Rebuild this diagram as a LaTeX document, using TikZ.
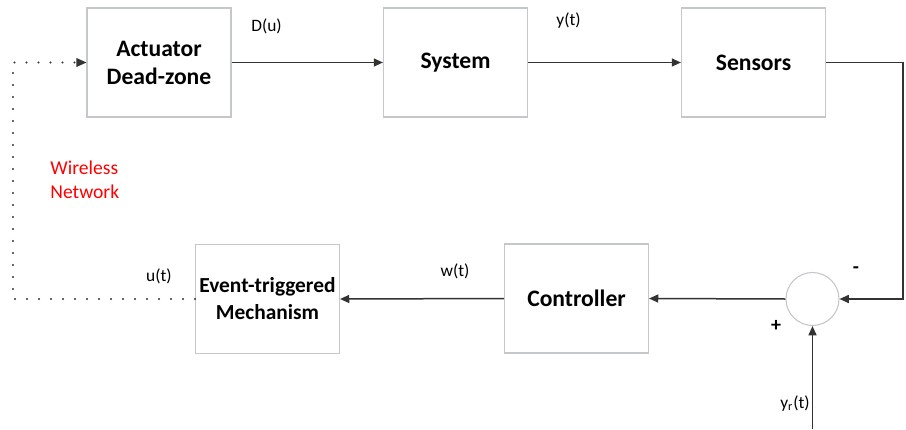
\documentclass[tikz,border=0pt]{standalone}
\usepackage{fontspec}
\setmainfont{Carlito}
\usetikzlibrary{positioning}
\usetikzlibrary{calc}
\usetikzlibrary{arrows.meta}
\definecolor{linegray}{HTML}{333333}
\definecolor{boxgray}{HTML}{C4C8CC}

\begin{document}
\begin{tikzpicture}[x=0.5pt, y=-0.5pt,
                    block/.style={draw=boxgray, line width=0.55pt, fill=white,
                                  minimum width=72pt, minimum height=54.5pt,
                                  align=center, inner sep=0pt,
                                  font=\fontsize{11.8}{14}\selectfont\bfseries},
                    sumnode/.style={draw=boxgray, circle, line width=0.55pt,
                                    minimum size=26.5pt, inner sep=0pt},
                    lbl/.style={font=\fontsize{8.7}{10}\selectfont, inner sep=0pt},
                    link/.style={draw=linegray, line width=0.75pt,
                                 -{Triangle[length=4.6pt, width=4pt]}},
                    radio/.style={draw=linegray, line width=1.1pt, line cap=round,
                                  dash pattern=on 0pt off 6pt}]
    \useasboundingbox (0,0) rectangle (906,429);

    % forward path
    \node[block] (act)  at (159,62.5)  {Actuator\\Dead-zone};
    \node[block] (sys)  at (455.5,62.5) {System};
    \node[block] (sen)  at (753.5,62.5) {Sensors};

    % feedback path
    \node[block]   (ctrl) at (576.5,298.5) {Controller};
    \node[block, font=\fontsize{10.7}{13.5}\selectfont\bfseries]
                   (etm)  at (267.5,299)   {Event-triggered\\Mechanism};
    \node[sumnode] (sum)  at (812.5,299)   {};

    \coordinate (rt) at (903,299);
    \coordinate (yr) at (812.5,429);
    \coordinate (lb) at (13,299);
    \coordinate (lt) at (13,62.5);

    \draw[link] (act) -- (sys);
    \draw[link] (sys) -- (sen);
    \draw[link] (sen.east) -| (rt) -- (sum.east);
    \draw[link] (sum.west) -- (ctrl.east);
    \draw[link] (ctrl.west) -- (etm.east);
    \draw[link] (yr) -- (sum.south);

    % wireless network
    \draw[radio] (etm.west) -- (lb) -- (lt) -- ($(act.west)+(-10,0)$);
    \fill[linegray] (act.west) -- ++(-10,-4.5) -- ++(0,9) -- cycle;

    % labels
    \node[lbl] (du) at (266.5,26)  {D(u)};
    \node[lbl] (yt) at (568.5,21)  {y(t)};
    \node[lbl] (ut) at (159,276)   {u(t)};
    \node[lbl] (wt) at (455,271)   {w(t)};
    \node[lbl] (yrt) at (795,404)  {y\textsubscript{r}(t)};
    \node[lbl, font=\fontsize{10}{10}\selectfont\bfseries] (minus) at (856,270) {-};
    \node[lbl, font=\fontsize{10}{10}\selectfont\bfseries] (plus)  at (776,326) {+};
    \node[lbl, font=\fontsize{9.8}{12}\selectfont, text=red, align=left, anchor=west]
        (wn) at (50,180) {Wireless\\Network};
\end{tikzpicture}
\end{document}
